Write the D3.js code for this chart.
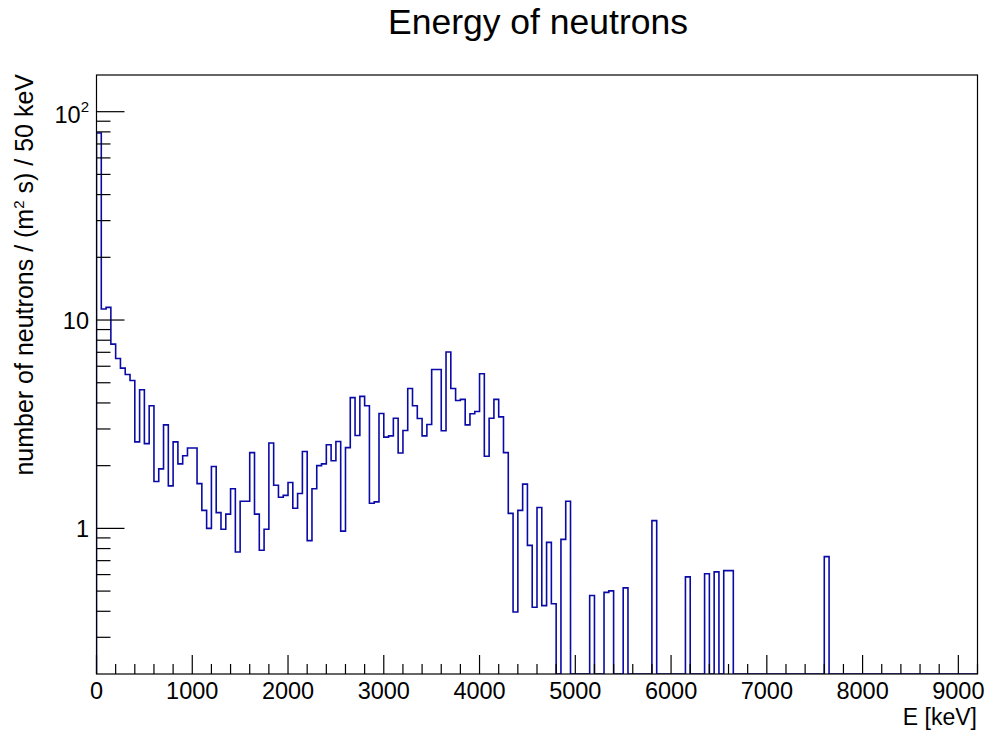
<!DOCTYPE html>
<html>
<head>
<meta charset="utf-8">
<script src="https://cdn.jsdelivr.net/npm/d3@7"></script>
<style>
  body { margin: 0; background: #fff; }
  text { font-family: "Liberation Sans", Arial, Helvetica, sans-serif; fill: #000; }
</style>
</head>
<body>
<script>
const w = 987;
const h = 731;

// histogram: 50 keV bins from 0 to 9200 keV
const binWidth = 50;
const xRange = [0, 9200];
const yRange = [0.2, 150];
const counts = [
  79, 11.3, 11.5, 7.66, 6.54, 5.88, 5.48, 5.13, 2.6, 4.63, 2.55, 3.88, 1.68, 1.93, 3.14, 1.6, 2.6, 2.04, 2.23, 2.43,
  2.43, 1.64, 1.22, 1.0, 1.98, 1.19, 0.99, 1.17, 1.55, 0.77, 1.35, 1.35, 2.31, 1.17, 0.785, 0.99, 2.57, 1.61, 1.41, 1.44,
  1.66, 1.25, 1.47, 2.34, 0.873, 1.55, 2.0, 2.04, 2.52, 2.11, 2.61, 0.97, 2.44, 4.24, 2.79, 4.3, 3.88, 1.32, 1.34, 3.56,
  2.74, 2.78, 3.38, 2.3, 2.95, 4.69, 3.88, 3.37, 2.78, 3.15, 5.79, 5.79, 2.94, 7.02, 4.69, 4.11, 4.16, 3.14, 3.55, 3.64,
  5.52, 2.22, 3.38, 4.16, 3.43, 2.31, 1.18, 0.397, 1.22, 1.63, 0.829, 0.418, 1.26, 0.426, 0.857, 0.435, 0, 0.886, 1.35, 0,
  0, 0, 0, 0.476, 0, 0, 0.493, 0.501, 0, 0, 0.518, 0, 0, 0, 0, 0, 1.09, 0, 0, 0,
  0, 0, 0, 0.585, 0, 0, 0, 0.606, 0, 0.618, 0, 0.627, 0.627, 0, 0, 0, 0, 0, 0, 0,
  0, 0, 0, 0, 0, 0, 0, 0, 0, 0, 0, 0, 0.732, 0, 0, 0, 0, 0, 0, 0,
  0, 0, 0, 0, 0, 0, 0, 0, 0, 0, 0, 0, 0, 0, 0, 0, 0, 0, 0, 0, 0, 0, 0, 0
];
const xTicks = [0, 1000, 2000, 3000, 4000, 5000, 6000, 7000, 8000, 9000];
const xMinorStep = 200;
const yTicks = [1, 10, 100];
const yTickLabels = ['1', '10', '10|2'];

const frame = { left: 96.5, right: 977.5, top: 75, bottom: 674 };

const svg = d3.select('body')
  .append('svg')
  .attr('width', w)
  .attr('height', h);

const xScale = d3.scaleLinear()
  .domain(xRange)
  .range([frame.left, frame.right]);

const yScale = d3.scaleLog()
  .domain(yRange)
  .range([frame.bottom, frame.top]);

// title
svg.append('text')
  .attr('x', 538)
  .attr('y', 34)
  .attr('text-anchor', 'middle')
  .style('font-size', '35.5px')
  .text('Energy of neutrons');

// histogram outline
const pts = [[xScale(0), yScale(yRange[0])]];
counts.forEach((c, i) => {
  const v = Math.max(c, yRange[0]);
  pts.push([xScale(i * binWidth), yScale(v)]);
  pts.push([xScale((i + 1) * binWidth), yScale(v)]);
});
pts.push([xScale(counts.length * binWidth), yScale(yRange[0])]);

svg.append('clipPath')
  .attr('id', 'clip')
  .append('rect')
  .attr('x', frame.left)
  .attr('y', frame.top)
  .attr('width', frame.right - frame.left)
  .attr('height', frame.bottom - frame.top);

svg.append('path')
  .attr('d', d3.line()(pts))
  .attr('clip-path', 'url(#clip)')
  .attr('fill', 'none')
  .attr('stroke', '#0a0aa6')
  .attr('stroke-width', 1.6);

// frame
svg.append('rect')
  .attr('x', frame.left)
  .attr('y', frame.top)
  .attr('width', frame.right - frame.left)
  .attr('height', frame.bottom - frame.top)
  .attr('fill', 'none')
  .attr('stroke', '#000')
  .attr('stroke-width', 1.2);

// x axis ticks (inside)
const xMinor = d3.range(xRange[0], xRange[1] + 1, xMinorStep).filter(d => d % 1000 !== 0);
const xAxis = svg.append('g').attr('id', 'x-axis');
xAxis.selectAll('line.minor')
  .data(xMinor)
  .enter()
  .append('line')
  .attr('x1', d => xScale(d))
  .attr('x2', d => xScale(d))
  .attr('y1', frame.bottom)
  .attr('y2', frame.bottom - 10)
  .attr('stroke', '#000')
  .attr('stroke-width', 1.2);
xAxis.selectAll('line.major')
  .data(xTicks)
  .enter()
  .append('line')
  .attr('x1', d => xScale(d))
  .attr('x2', d => xScale(d))
  .attr('y1', frame.bottom)
  .attr('y2', frame.bottom - 19)
  .attr('stroke', '#000')
  .attr('stroke-width', 1.2);
xAxis.selectAll('text')
  .data(xTicks)
  .enter()
  .append('text')
  .attr('x', d => xScale(d))
  .attr('y', 699)
  .attr('text-anchor', 'middle')
  .style('font-size', '23.5px')
  .text(d => d);

svg.append('text')
  .attr('x', 977)
  .attr('y', 725)
  .attr('text-anchor', 'end')
  .style('font-size', '23px')
  .text('E [keV]');

// y axis ticks (inside)
const yMinor = [];
[0.1, 1, 10].forEach(dec => {
  [2, 3, 4, 5, 6, 7, 8, 9].forEach(m => {
    const v = m * dec;
    if (v > yRange[0] && v < yRange[1]) yMinor.push(v);
  });
});
const yAxis = svg.append('g').attr('id', 'y-axis');
yAxis.selectAll('line.minor')
  .data(yMinor)
  .enter()
  .append('line')
  .attr('x1', frame.left)
  .attr('x2', frame.left + 14)
  .attr('y1', d => yScale(d))
  .attr('y2', d => yScale(d))
  .attr('stroke', '#000')
  .attr('stroke-width', 1.2);
yAxis.selectAll('line.major')
  .data(yTicks)
  .enter()
  .append('line')
  .attr('x1', frame.left)
  .attr('x2', frame.left + 28)
  .attr('y1', d => yScale(d))
  .attr('y2', d => yScale(d))
  .attr('stroke', '#000')
  .attr('stroke-width', 1.2);

yTicks.forEach((t, i) => {
  const parts = yTickLabels[i].split('|');
  const lbl = yAxis.append('text')
    .attr('x', 89)
    .attr('y', yScale(t) + (parts.length > 1 ? 11.5 : 9))
    .attr('text-anchor', 'end')
    .style('font-size', '23.5px');
  lbl.append('tspan').text(parts[0]);
  if (parts.length > 1) {
    lbl.append('tspan')
      .attr('dy', -11)
      .style('font-size', '15px')
      .text(parts[1]);
  }
});

// y axis title
const yTitle = svg.append('text')
  .attr('transform', 'translate(32.5, 74) rotate(-90)')
  .attr('text-anchor', 'end')
  .style('font-size', '25px');
yTitle.append('tspan').text('number of neutrons / (m');
yTitle.append('tspan').attr('dy', -9).style('font-size', '15px').text('2');
yTitle.append('tspan').attr('dy', 9).text(' s) / 50 keV');
</script>
</body>
</html>
